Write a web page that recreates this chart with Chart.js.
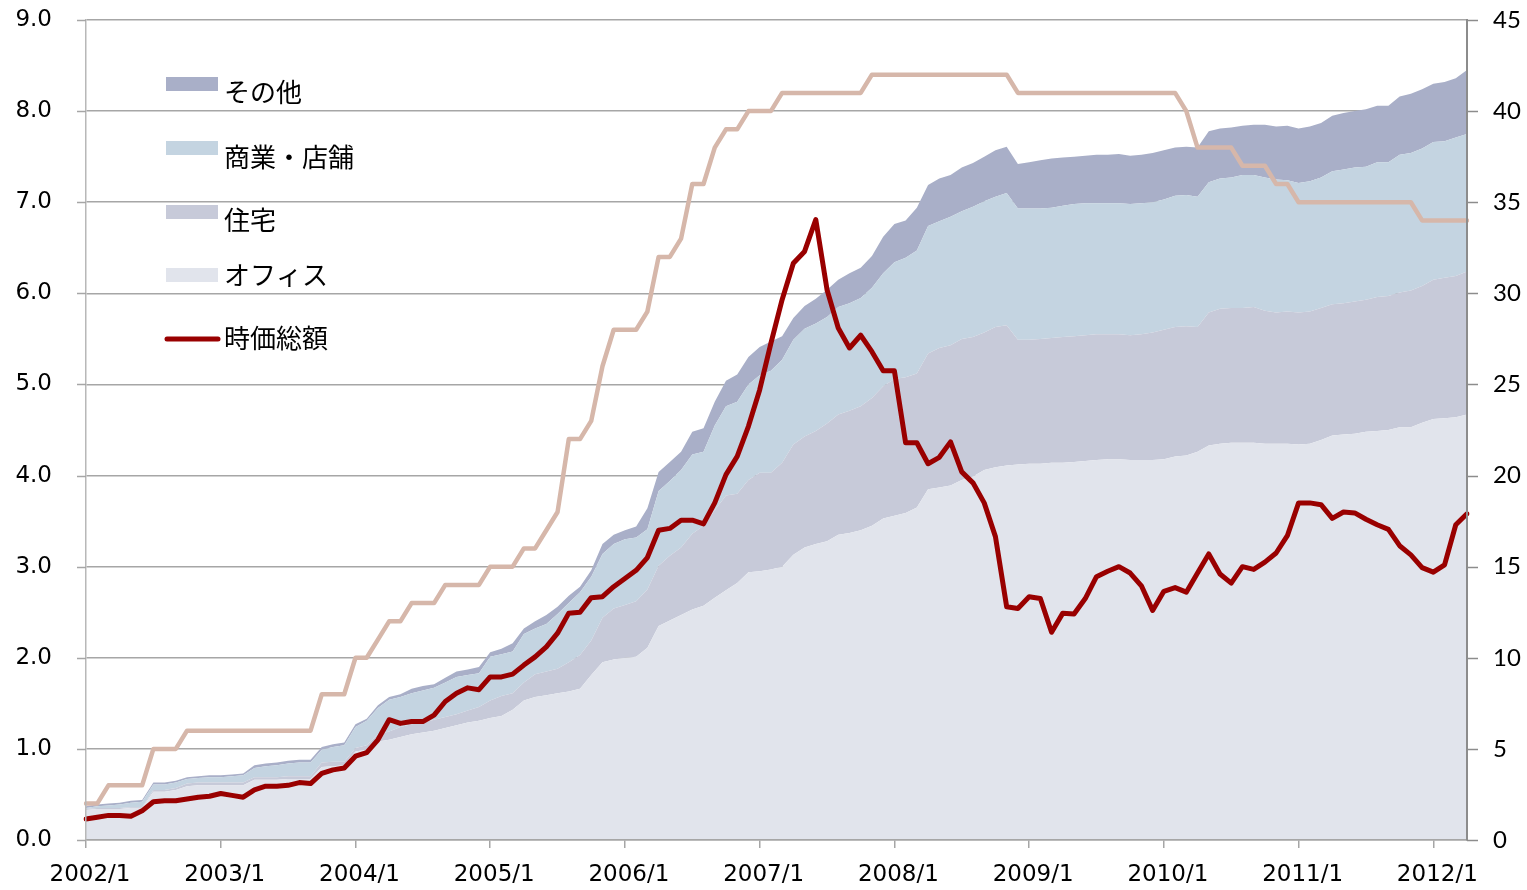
<!DOCTYPE html>
<html>
<head>
<meta charset="utf-8">
<script src="https://cdn.jsdelivr.net/npm/chart.js@4.4.1/dist/chart.umd.min.js"></script>
<style>
html,body{margin:0;padding:0;background:#fff;}
canvas{display:block;}
</style>
</head>
<body>
<canvas id="c" width="1527" height="890"></canvas>
<script>
// ---- categories (monthly, 2002/1 .. 2012/4) ----
const months = [];
for (let y = 2002; y <= 2012; y++) for (let m = 1; m <= 12; m++) if (months.length < 124) months.push(y + '/' + m);
const yearTicks = ['2002/1','2003/1','2004/1','2005/1','2006/1','2007/1','2008/1','2009/1','2010/1','2011/1','2012/1'];

// ---- stacked areas (left axis) ----
const office = [
0.33,0.34,0.34,0.34,0.35,0.35,0.53,0.53,0.55,0.59,
0.60,0.60,0.60,0.60,0.60,0.66,0.66,0.66,0.67,0.67,
0.67,0.80,0.81,0.82,0.97,0.99,1.08,1.10,1.13,1.16,
1.18,1.20,1.23,1.26,1.29,1.31,1.34,1.36,1.43,1.53,
1.57,1.59,1.61,1.63,1.66,1.81,1.95,1.98,2.00,2.01,
2.11,2.35,2.41,2.47,2.53,2.57,2.66,2.74,2.82,2.94,
2.95,2.97,3.00,3.13,3.21,3.25,3.28,3.35,3.37,3.40,
3.45,3.53,3.56,3.59,3.65,3.85,3.87,3.89,3.95,3.99,
4.06,4.09,4.11,4.12,4.13,4.13,4.14,4.14,4.15,4.16,
4.17,4.18,4.18,4.17,4.17,4.17,4.18,4.21,4.22,4.26,
4.33,4.35,4.36,4.36,4.36,4.35,4.35,4.35,4.34,4.35,
4.39,4.44,4.45,4.46,4.48,4.49,4.50,4.53,4.53,4.58,
4.62,4.63,4.64,4.67];
const residential = [
0.01,0.01,0.01,0.01,0.01,0.01,0.02,0.02,0.02,0.03,
0.03,0.03,0.03,0.03,0.03,0.03,0.03,0.03,0.03,0.03,
0.03,0.05,0.05,0.04,0.04,0.05,0.08,0.09,0.11,0.11,
0.11,0.12,0.12,0.12,0.13,0.15,0.19,0.22,0.18,0.20,
0.25,0.26,0.27,0.32,0.37,0.38,0.49,0.56,0.58,0.61,
0.64,0.66,0.71,0.74,0.83,0.88,0.96,1.04,0.98,1.01,
1.08,1.06,1.14,1.21,1.22,1.24,1.29,1.32,1.34,1.36,
1.40,1.45,1.50,1.49,1.47,1.49,1.53,1.54,1.55,1.53,
1.51,1.54,1.54,1.37,1.36,1.37,1.37,1.38,1.38,1.38,
1.38,1.37,1.37,1.37,1.38,1.40,1.42,1.42,1.42,1.37,
1.46,1.48,1.48,1.48,1.49,1.46,1.44,1.45,1.45,1.45,
1.45,1.44,1.44,1.45,1.45,1.47,1.47,1.48,1.50,1.50,
1.53,1.54,1.55,1.57];
const commercial = [
0.01,0.02,0.03,0.04,0.05,0.06,0.06,0.06,0.06,0.05,
0.05,0.06,0.06,0.07,0.08,0.10,0.12,0.13,0.14,0.15,
0.15,0.14,0.16,0.18,0.23,0.27,0.29,0.35,0.33,0.34,
0.35,0.35,0.38,0.41,0.39,0.37,0.48,0.46,0.46,0.53,
0.50,0.52,0.60,0.65,0.69,0.70,0.70,0.71,0.72,0.70,
0.66,0.82,0.82,0.85,0.87,0.81,0.93,0.98,1.01,1.05,
1.07,1.12,1.13,1.15,1.18,1.18,1.17,1.18,1.18,1.19,
1.21,1.24,1.28,1.31,1.35,1.40,1.39,1.41,1.40,1.43,
1.44,1.43,1.45,1.44,1.44,1.43,1.43,1.44,1.45,1.45,
1.44,1.44,1.44,1.44,1.44,1.43,1.43,1.44,1.44,1.43,
1.43,1.43,1.43,1.46,1.45,1.46,1.46,1.44,1.42,1.43,
1.43,1.46,1.47,1.47,1.46,1.48,1.47,1.51,1.51,1.51,
1.51,1.50,1.52,1.51];
const other = [
0.02,0.02,0.02,0.02,0.02,0.02,0.02,0.02,0.02,0.02,
0.02,0.02,0.02,0.02,0.02,0.03,0.03,0.03,0.03,0.03,
0.03,0.03,0.03,0.03,0.03,0.02,0.03,0.03,0.03,0.05,
0.05,0.04,0.05,0.06,0.06,0.07,0.05,0.06,0.09,0.06,
0.08,0.10,0.08,0.08,0.06,0.07,0.11,0.10,0.10,0.12,
0.23,0.21,0.21,0.20,0.25,0.26,0.26,0.28,0.30,0.30,
0.31,0.32,0.26,0.24,0.25,0.27,0.30,0.30,0.33,0.33,
0.35,0.40,0.42,0.41,0.47,0.45,0.47,0.46,0.48,0.48,
0.49,0.51,0.51,0.49,0.51,0.53,0.54,0.53,0.52,0.52,
0.53,0.53,0.54,0.53,0.53,0.54,0.54,0.53,0.53,0.54,
0.56,0.55,0.55,0.54,0.55,0.58,0.58,0.60,0.60,0.60,
0.60,0.61,0.62,0.62,0.63,0.62,0.62,0.64,0.65,0.65,
0.64,0.65,0.65,0.70];

// ---- market cap line (left axis) ----
const marketCap = [
0.23,0.25,0.27,0.27,0.26,0.32,0.42,0.43,0.43,0.45,
0.47,0.48,0.51,0.49,0.47,0.55,0.59,0.59,0.60,0.63,
0.62,0.73,0.77,0.79,0.92,0.96,1.10,1.32,1.28,1.30,
1.30,1.37,1.52,1.61,1.67,1.65,1.79,1.79,1.82,1.92,
2.01,2.12,2.27,2.49,2.50,2.66,2.67,2.78,2.87,2.96,
3.10,3.40,3.42,3.51,3.51,3.47,3.70,4.01,4.21,4.54,
4.94,5.45,5.93,6.33,6.46,6.81,6.04,5.62,5.40,5.54,
5.36,5.15,5.15,4.36,4.36,4.13,4.20,4.37,4.04,3.92,
3.70,3.33,2.56,2.54,2.67,2.65,2.28,2.49,2.48,2.65,
2.89,2.95,3.00,2.93,2.79,2.52,2.73,2.77,2.72,2.93,
3.14,2.92,2.82,3.00,2.97,3.05,3.15,3.34,3.70,3.70,
3.68,3.53,3.60,3.59,3.52,3.46,3.41,3.23,3.13,2.99,
2.94,3.02,3.46,3.58];

// ---- number of listed REITs (right axis) ----
const reitCount = [
2,2,3,3,3,3,5,5,5,6,
6,6,6,6,6,6,6,6,6,6,
6,8,8,8,10,10,11,12,12,13,
13,13,14,14,14,14,15,15,15,16,
16,17,18,22,22,23,26,28,28,28,
29,32,32,33,36,36,38,39,39,40,
40,40,41,41,41,41,41,41,41,41,
42,42,42,42,42,42,42,42,42,42,
42,42,42,41,41,41,41,41,41,41,
41,41,41,41,41,41,41,41,40,38,
38,38,38,37,37,37,36,36,35,35,
35,35,35,35,35,35,35,35,35,34,
34,34,34,34];

const COLORS = {
  office: '#e1e4ec',
  residential: '#c7cad9',
  commercial: '#c4d4e1',
  other: '#a9afc8',
  cap: '#990000',
  count: '#d6b7aa'
};

const NUM_FONT = '"DejaVu Sans", sans-serif';

const legendPlugin = {
  id: 'insideLegend',
  afterDraw(chart) {
    const ctx = chart.ctx;
    const ds = chart.data.datasets;
    const rows = [
      { d: ds[3], box: true,  sy: 84,  ty: 92 },
      { d: ds[2], box: true,  sy: 148, ty: 157 },
      { d: ds[1], box: true,  sy: 212, ty: 220 },
      { d: ds[0], box: true,  sy: 275, ty: 275 },
      { d: ds[4], box: false, sy: 339, ty: 338 }
    ];
    ctx.save();
    ctx.font = '26px "Noto Sans CJK JP", sans-serif';
    ctx.textBaseline = 'middle';
    ctx.textAlign = 'left';
    rows.forEach(r => {
      if (r.box) {
        ctx.fillStyle = r.d.backgroundColor;
        ctx.fillRect(166, r.sy - 7, 52, 14);
      } else {
        ctx.strokeStyle = r.d.borderColor;
        ctx.lineWidth = 5;
        ctx.lineCap = 'round';
        ctx.beginPath();
        ctx.moveTo(167, r.sy);
        ctx.lineTo(218, r.sy);
        ctx.stroke();
      }
      ctx.fillStyle = '#000';
      ctx.fillText(r.d.label, 224, r.ty);
    });
    ctx.restore();
  }
};

// short tick marks next to both value axes (label spacing is reserved by the scales)
const tickMarkPlugin = {
  id: 'valueAxisTicks',
  afterDraw(chart) {
    const ctx = chart.ctx;
    const ca = chart.chartArea;
    ctx.save();
    ctx.lineWidth = 1.5;
    const ys = chart.scales.y;
    ctx.strokeStyle = '#a6a6a6';
    ys.ticks.forEach(t => {
      const p = Math.round(ys.getPixelForValue(t.value)) + 0.5;
      ctx.beginPath(); ctx.moveTo(ca.left - 9, p); ctx.lineTo(ca.left, p); ctx.stroke();
    });
    const y1 = chart.scales.y1;
    ctx.strokeStyle = '#8c8c8c';
    y1.ticks.forEach(t => {
      const p = Math.round(y1.getPixelForValue(t.value)) + 0.5;
      ctx.beginPath(); ctx.moveTo(ca.right, p); ctx.lineTo(ca.right + 11, p); ctx.stroke();
    });
    ctx.restore();
  }
};

const areaBase = { pointRadius: 0, borderWidth: 0, tension: 0, stack: 'areas', order: 3, yAxisID: 'y' };

new Chart(document.getElementById('c'), {
  type: 'line',
  data: {
    labels: months,
    datasets: [
      Object.assign({ label: 'オフィス', data: office, backgroundColor: COLORS.office, borderColor: COLORS.office, fill: 'origin' }, areaBase),
      Object.assign({ label: '住宅', data: residential, backgroundColor: COLORS.residential, borderColor: COLORS.residential, fill: '-1' }, areaBase),
      Object.assign({ label: '商業・店舗', data: commercial, backgroundColor: COLORS.commercial, borderColor: COLORS.commercial, fill: '-1' }, areaBase),
      Object.assign({ label: 'その他', data: other, backgroundColor: COLORS.other, borderColor: COLORS.other, fill: '-1' }, areaBase),
      { label: '時価総額', data: marketCap, borderColor: COLORS.cap, backgroundColor: COLORS.cap, borderWidth: 5,
        pointRadius: 0, fill: false, tension: 0, stack: 'cap', order: 1, yAxisID: 'y',
        borderJoinStyle: 'round', borderCapStyle: 'round' },
      { label: '上場銘柄数', data: reitCount, borderColor: COLORS.count, backgroundColor: COLORS.count, borderWidth: 4.5,
        pointRadius: 0, fill: false, tension: 0, order: 2, yAxisID: 'y1',
        borderJoinStyle: 'round', borderCapStyle: 'round' }
    ]
  },
  options: {
    responsive: false,
    animation: false,
    devicePixelRatio: 1,
    layout: { padding: { top: 20, left: 0, right: 0, bottom: 0 } },
    plugins: { legend: { display: false }, tooltip: { enabled: false } },
    scales: {
      x: {
        type: 'category',
        offset: false,
        grid: { drawOnChartArea: false, drawTicks: true, tickLength: 8, color: '#a6a6a6', lineWidth: 1.5 },
        border: { display: true, color: '#a6a6a6', width: 1.5, z: 1 },
        ticks: {
          autoSkip: false, maxRotation: 0, minRotation: 0, padding: 13, labelOffset: 4,
          color: '#000', font: { family: NUM_FONT, size: 23 },
          callback: function (v, i) { const l = months[i]; return yearTicks.includes(l) ? l : null; }
        },
        afterFit: s => { s.height = 50; }
      },
      y: {
        type: 'linear', position: 'left', stacked: true, min: 0, max: 9,
        grid: { color: '#a6a6a6', lineWidth: 1.5, drawTicks: true, tickLength: 29, tickColor: 'rgba(0,0,0,0)' },
        border: { display: true, color: '#b8b8b8', width: 1.5, z: 1 },
        ticks: { stepSize: 1, padding: 5, color: '#000', font: { family: NUM_FONT, size: 23 },
                 callback: v => Number(v).toFixed(1) },
        afterFit: s => { s.width = 86; }
      },
      y1: {
        type: 'linear', position: 'right', min: 0, max: 45,
        grid: { drawOnChartArea: false, drawTicks: true, tickLength: 21, tickColor: 'rgba(0,0,0,0)', lineWidth: 1.5 },
        border: { display: true, color: '#8c8c8c', width: 2, z: 1 },
        ticks: { stepSize: 5, padding: 5, color: '#000', font: { family: 'Lato, sans-serif', size: 24 } },
        afterFit: s => { s.width = 60; }
      }
    }
  },
  plugins: [legendPlugin, tickMarkPlugin]
});
</script>
</body>
</html>
